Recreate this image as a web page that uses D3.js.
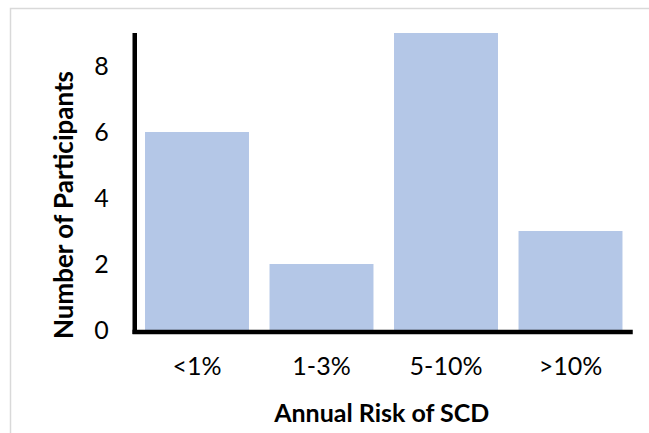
<!DOCTYPE html>
<html>
<head>
<meta charset="utf-8">
<script src="https://cdn.jsdelivr.net/npm/d3@7"></script>
<style>
  html, body { margin: 0; padding: 0; background: #fff; }
  svg { display: block; }
  text { font-family: Lato, "Open Sans", sans-serif; fill: #000; }
</style>
</head>
<body>
<svg id="chart" width="649" height="433"></svg>
<script>
const categories = ["<1%", "1-3%", "5-10%", ">10%"];
const participants = [6, 2, 9, 3];
const yTicks = [0, 2, 4, 6, 8];
const xTitle = "Annual Risk of SCD";
const yTitle = "Number of Participants";

const W = 649, H = 433;
const svg = d3.select("#chart");

// outer chart frame
svg.append("rect")
  .attr("x", 10.5).attr("y", 8.5)
  .attr("width", W + 20).attr("height", H + 20)
  .attr("fill", "#fff")
  .attr("stroke", "#d9d9d9").attr("stroke-width", 1.5);

const plotLeft = 134.75, plotRight = 632.75, plotTop = 33, plotBottom = 330;

const x = d3.scaleBand()
  .domain(categories)
  .range([plotLeft, plotRight])
  .paddingInner(0.165)
  .paddingOuter(0.0825);

const y = d3.scaleLinear()
  .domain([0, 9])
  .range([plotBottom, plotTop]);

// bars
svg.append("g").selectAll("rect")
  .data(categories)
  .join("rect")
  .attr("x", d => x(d))
  .attr("width", x.bandwidth())
  .attr("y", (d, i) => y(participants[i]))
  .attr("height", (d, i) => y(0) - y(participants[i]))
  .attr("fill", "#b4c7e7");

// y axis
const yAxis = d3.axisLeft(y).tickValues(yTicks).tickSize(0).tickPadding(26);
const gy = svg.append("g").attr("transform", `translate(${plotLeft},0)`).call(yAxis);
gy.select(".domain").remove();
gy.selectAll("text").attr("font-size", 25).attr("font-family", "Lato, sans-serif").attr("fill", "#000");

// x axis
const xAxis = d3.axisBottom(x).tickSize(0).tickPadding(27);
const gx = svg.append("g").attr("transform", `translate(0,${plotBottom})`).call(xAxis);
gx.select(".domain").remove();
gx.selectAll("text").attr("font-size", 25).attr("font-family", "Lato, sans-serif").attr("fill", "#000");

// axis lines (thick black)
svg.append("line")
  .attr("x1", plotLeft).attr("x2", plotLeft)
  .attr("y1", y(9)).attr("y2", plotBottom + 4)
  .attr("stroke", "#000").attr("stroke-width", 4.5);
svg.append("line")
  .attr("x1", plotLeft - 2.25).attr("x2", plotRight)
  .attr("y1", plotBottom + 2).attr("y2", plotBottom + 2)
  .attr("stroke", "#000").attr("stroke-width", 4.5);

// axis titles
svg.append("text")
  .attr("x", (plotLeft + plotRight) / 2 - 2)
  .attr("y", 422)
  .attr("text-anchor", "middle")
  .attr("font-size", 25)
  .attr("font-weight", "bold")
  .text(xTitle);

svg.append("text")
  .attr("transform", "translate(73,205) rotate(-90)")
  .attr("text-anchor", "middle")
  .attr("font-size", 26)
  .attr("font-weight", "bold")
  .text(yTitle);
</script>
</body>
</html>
